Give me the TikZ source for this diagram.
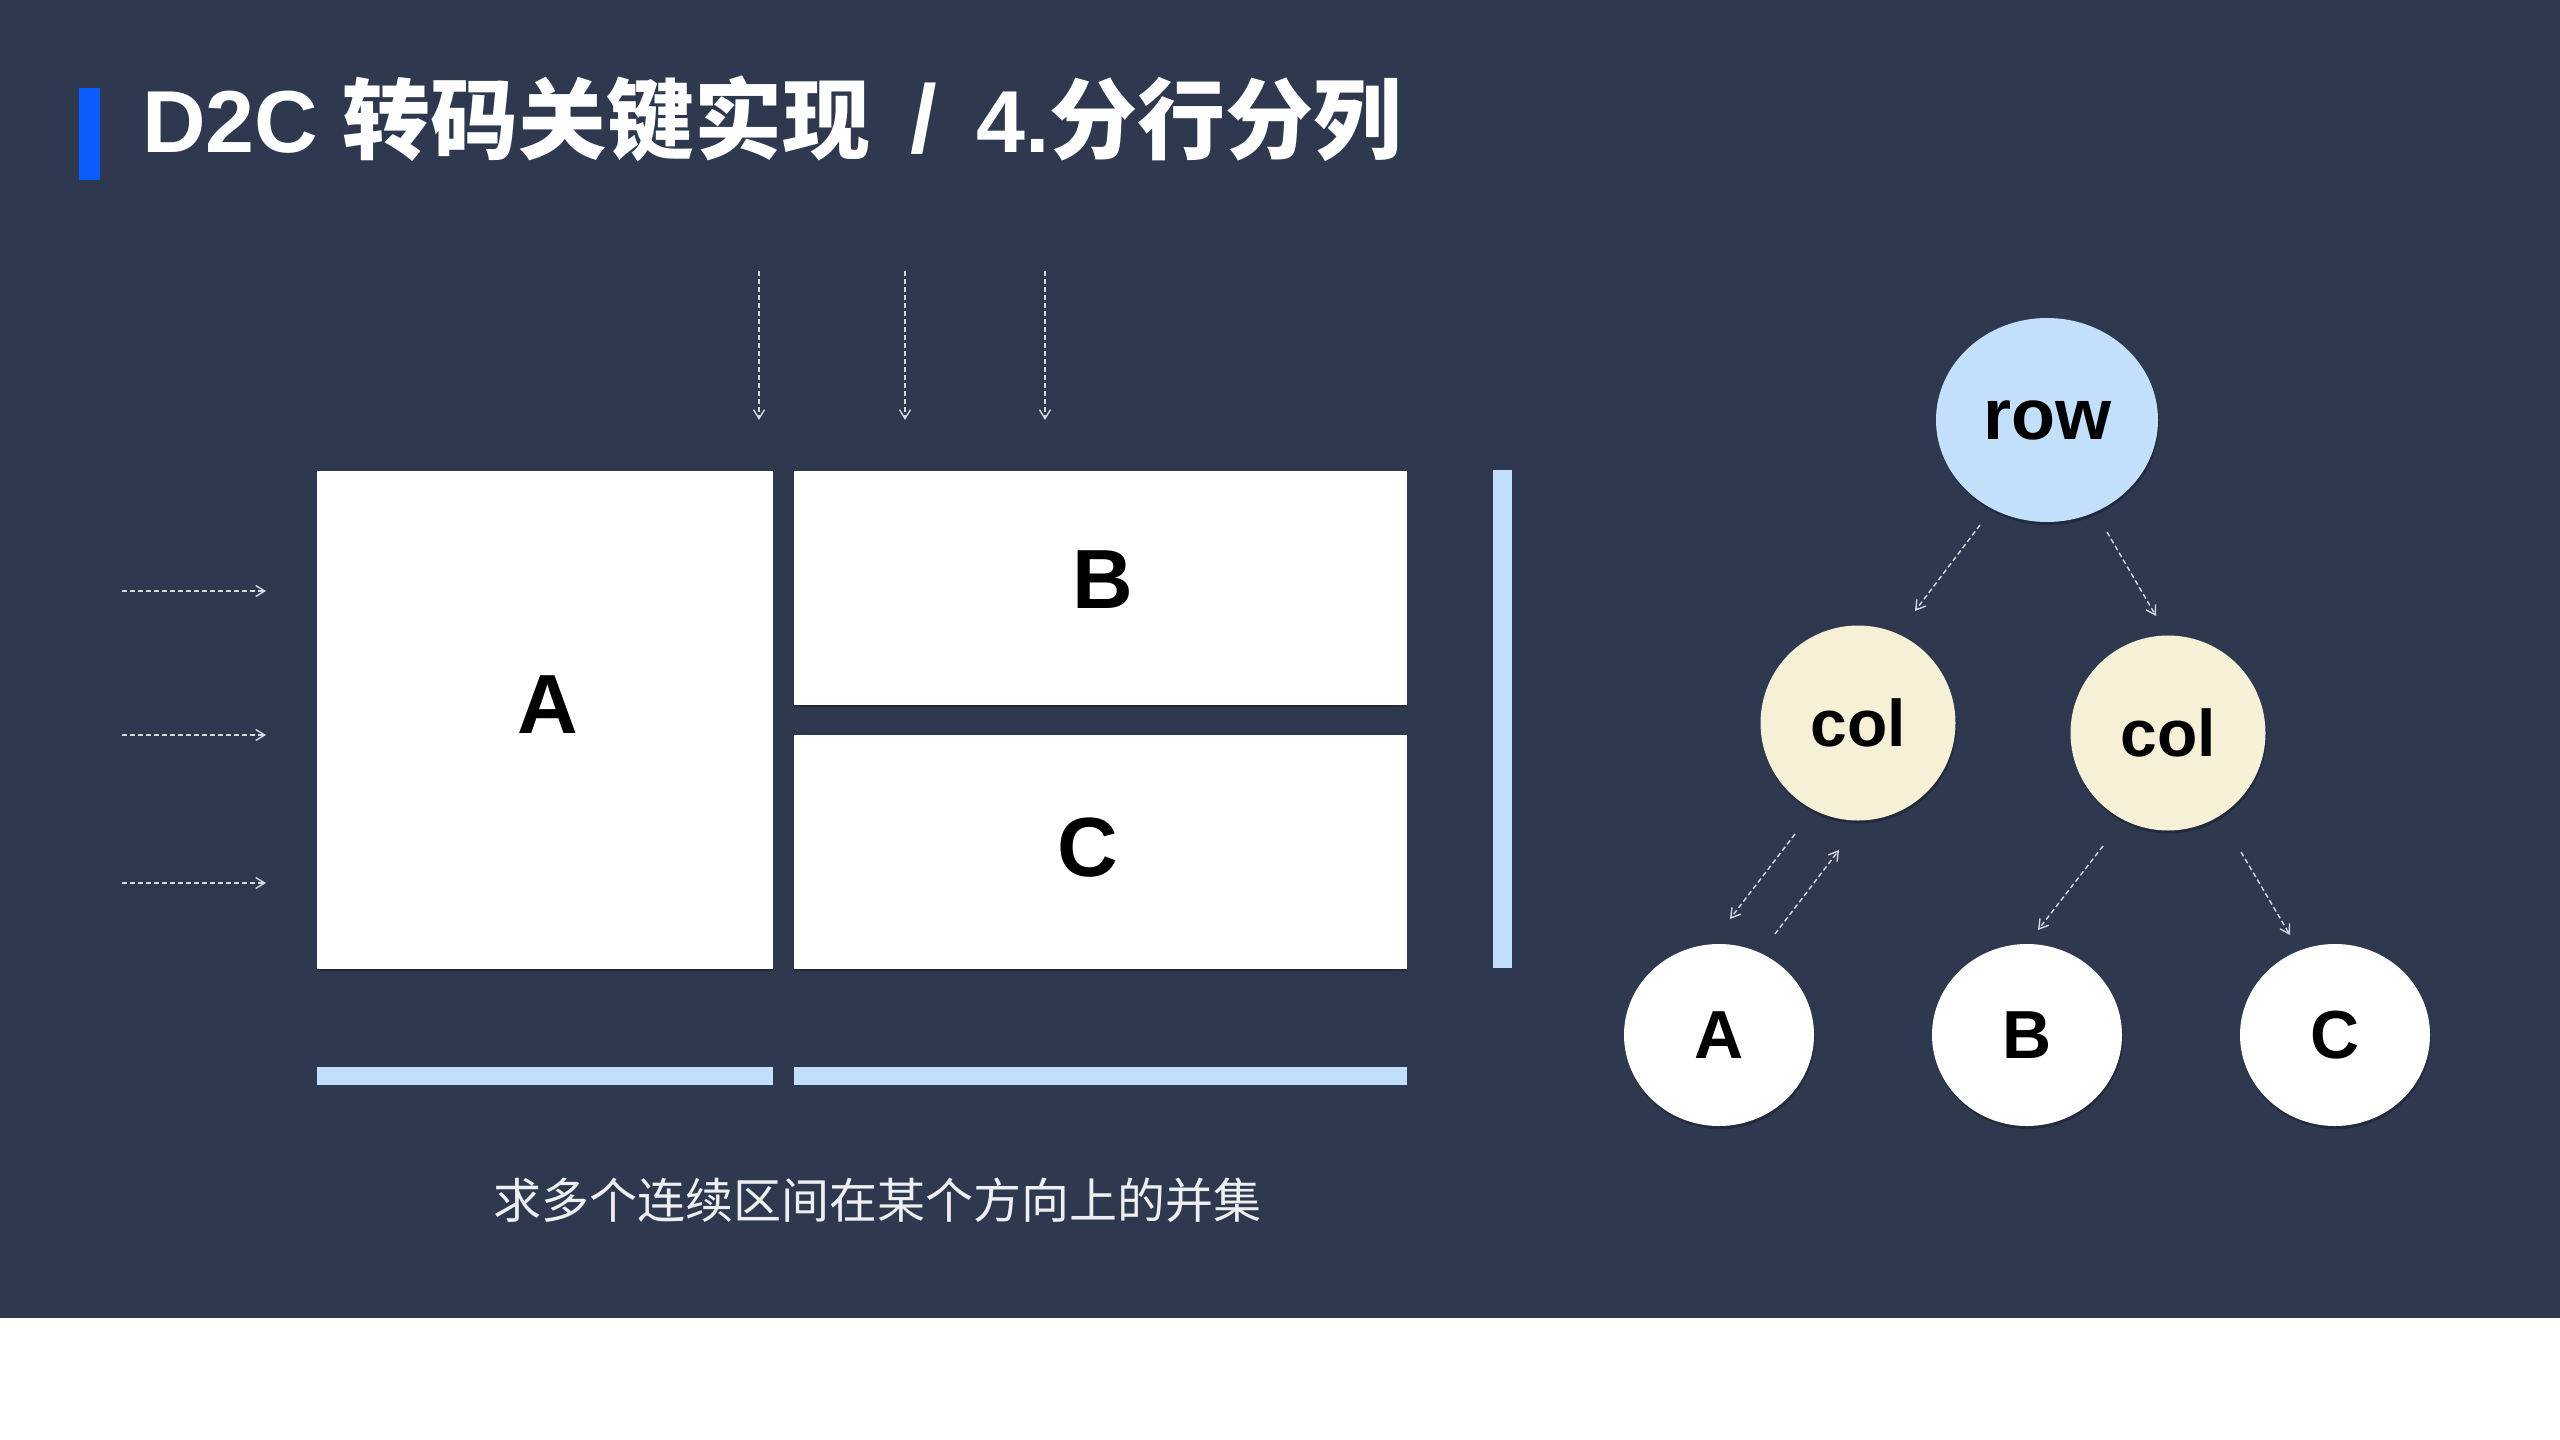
\documentclass[tikz,border=0pt]{standalone}
\usepackage{fontspec}
\setmainfont{Liberation Sans}
\newfontfamily\cjk{Noto Sans CJK SC}
\usetikzlibrary{arrows.meta,shapes.geometric,shadows}
\definecolor{bg}{HTML}{2E3950}
\definecolor{lblue}{HTML}{C2E0FB}
\definecolor{cream}{HTML}{F6F1D6}
\definecolor{accent}{HTML}{0B5CFF}
\definecolor{dashc}{HTML}{D3D7DE}
\begin{document}
\begin{tikzpicture}[x=1pt,y=-1pt,
  darr/.style={draw=dashc, line width=1.4pt, dash pattern=on 5pt off 3pt,
    -{Straight Barb[length=9pt,width=11pt,line width=1.4pt]}},
  box/.style={fill=white, draw=none, anchor=north west, inner sep=0pt,
    drop shadow={opacity=0.25, shadow xshift=0pt, shadow yshift=-2pt, fill=black}},
  boxlbl/.style={inner sep=0pt, text=black, font={\fontsize{84}{90}\selectfont\bfseries}},
  tnode/.style={ellipse, draw=none, inner sep=0pt, text=black,
    drop shadow={opacity=0.25, shadow xshift=1pt, shadow yshift=-3pt, fill=black}},
  tlbl/.style={font={\fontsize{66}{80}\selectfont\bfseries}}
]
\useasboundingbox (0,0) rectangle (2560,1440);
\fill[white] (0,0) rectangle (2560,1440);
\fill[bg] (0,0) rectangle (2560,1318);

% title
\fill[accent] (79,88) rectangle (100,180);
\node[anchor=base west, inner sep=0pt, text=white,
  font={\fontsize{88}{100}\selectfont\bfseries}] (title) at (142,152)
  {D2C {\cjk 转码关键实现}\hspace{0.45em}{\fontsize{96}{100}\selectfont/}\hspace{0.45em}4.{\cjk 分行分列}};

% boxes
\node[box, minimum width=456pt, minimum height=498pt] (boxA) at (317,471) {};
\node[box, minimum width=613pt, minimum height=234pt] (boxB) at (794,471) {};
\node[box, minimum width=613pt, minimum height=234pt] (boxC) at (794,735) {};
\node[boxlbl] (lA) at (548,705) {A};
\node[boxlbl] (lB) at (1103,580) {B};
\node[boxlbl] (lC) at (1088,848) {C};

% projection bars
\fill[lblue] (317,1067) rectangle (773,1085);
\fill[lblue] (794,1067) rectangle (1407,1085);
\fill[lblue] (1493,470) rectangle (1512,968);

% scan arrows
\coordinate (t1s) at (759,271); \coordinate (t1e) at (759,420);
\coordinate (t2s) at (905,271); \coordinate (t2e) at (905,420);
\coordinate (t3s) at (1045,271); \coordinate (t3e) at (1045,420);
\draw[darr] (t1s) -- (t1e);
\draw[darr] (t2s) -- (t2e);
\draw[darr] (t3s) -- (t3e);
\coordinate (l1s) at (122,591); \coordinate (l1e) at (266,591);
\coordinate (l2s) at (122,735); \coordinate (l2e) at (266,735);
\coordinate (l3s) at (122,883); \coordinate (l3e) at (266,883);
\draw[darr] (l1s) -- (l1e);
\draw[darr] (l2s) -- (l2e);
\draw[darr] (l3s) -- (l3e);

% subtitle
\node[anchor=west, inner sep=0pt, text=white!92!bg,
  font={\cjk\fontsize{48}{58}\selectfont}] (sub) at (493,1200)
  {求多个连续区间在某个方向上的并集};

% tree
\node[tnode, fill=lblue, minimum width=222pt, minimum height=204pt,
  font={\fontsize{72}{90}\selectfont\bfseries}] (row) at (2047,420) {row};
\node[tnode, tlbl, fill=cream, minimum width=195pt, minimum height=195pt] (col1) at (1858,723) {col};
\node[tnode, tlbl, fill=cream, minimum width=195pt, minimum height=195pt] (col2) at (2168,733) {col};
\node[tnode, fill=white, minimum width=190pt, minimum height=182pt,
  font={\fontsize{68}{80}\selectfont\bfseries}] (nA) at (1719,1035) {A};
\node[tnode, fill=white, minimum width=190pt, minimum height=182pt,
  font={\fontsize{68}{80}\selectfont\bfseries}] (nB) at (2027,1035) {B};
\node[tnode, fill=white, minimum width=190pt, minimum height=182pt,
  font={\fontsize{68}{80}\selectfont\bfseries}] (nC) at (2335,1035) {C};

\coordinate (r1s) at (1980,525); \coordinate (r1e) at (1915,611);
\coordinate (r2s) at (2107,532); \coordinate (r2e) at (2156,616);
\coordinate (c1s) at (1795,834); \coordinate (c1e) at (1730,919);
\coordinate (a1s) at (1775,934); \coordinate (a1e) at (1839,850);
\coordinate (c2s) at (2103,846); \coordinate (c2e) at (2038,930);
\coordinate (c3s) at (2241,852); \coordinate (c3e) at (2290,935);
\draw[darr] (r1s) -- (r1e);
\draw[darr] (r2s) -- (r2e);
\draw[darr] (c1s) -- (c1e);
\draw[darr] (a1s) -- (a1e);
\draw[darr] (c2s) -- (c2e);
\draw[darr] (c3s) -- (c3e);
\end{tikzpicture}
\end{document}
